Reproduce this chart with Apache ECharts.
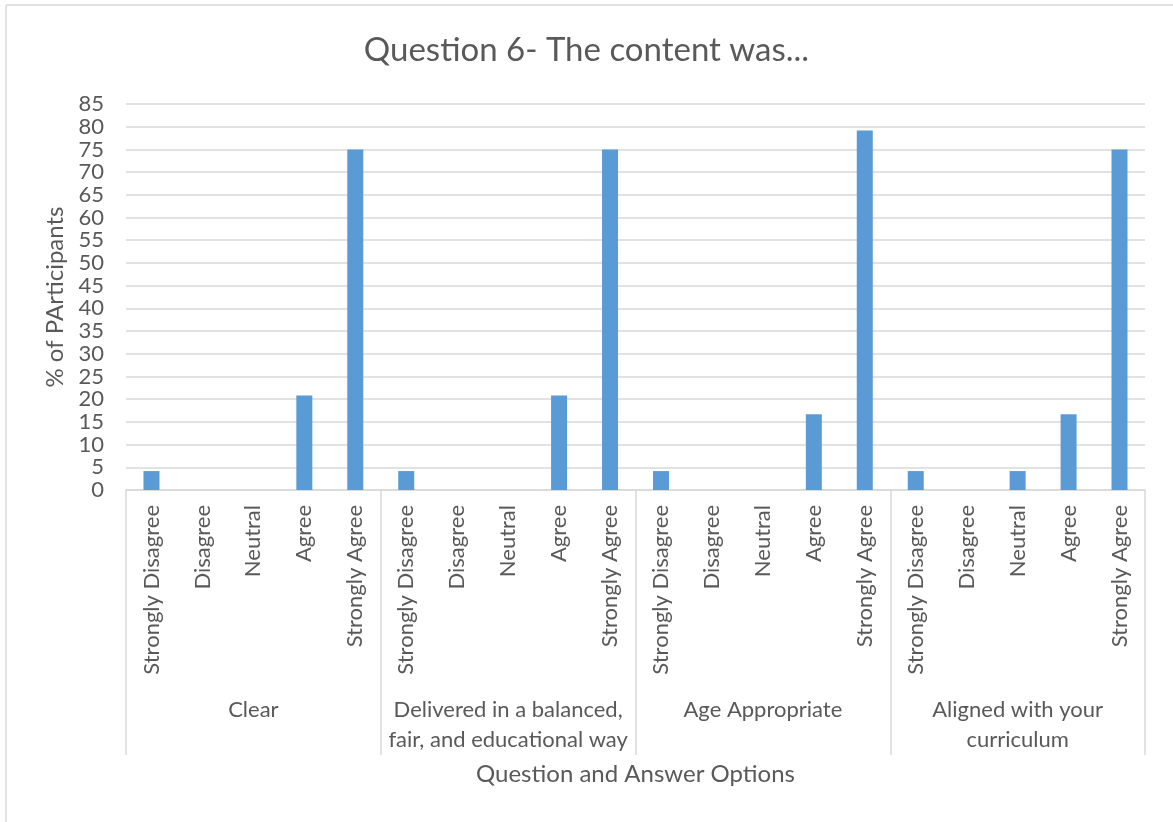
<!DOCTYPE html>
<html>
<head>
<meta charset="utf-8">
<script src="https://cdn.jsdelivr.net/npm/echarts@6/dist/echarts.min.js"></script>
<style>html,body{margin:0;padding:0;background:#fff;}#chart{width:1173px;height:822px;}</style>
</head>
<body>
<div id="chart"></div>
<script>
const answerOptions = ["Strongly Disagree", "Disagree", "Neutral", "Agree", "Strongly Agree"];
const groups = ["Clear", "Delivered in a balanced,\nfair, and educational way", "Age Appropriate", "Aligned with your\ncurriculum"];
const clearValues = [4.17, 0, 0, 20.83, 75];
const deliveredValues = [4.17, 0, 0, 20.83, 75];
const ageValues = [4.17, 0, 0, 16.67, 79.17];
const alignedValues = [4.17, 0, 4.17, 16.67, 75];
const yTicks = { min: 0, max: 85, interval: 5 };

const categories = [];
groups.forEach(() => answerOptions.forEach(a => categories.push(a)));
const values = [].concat(clearValues, deliveredValues, ageValues, alignedValues);

const FONT = 'Lato';
const TXT = '#595959';
const GRID = '#d9d9d9';

const chart = echarts.init(document.getElementById('chart'), null, { renderer: 'canvas' });
chart.setOption({
  backgroundColor: '#ffffff',
  animation: false,
  textStyle: { fontFamily: FONT },
  title: {
    text: 'Question 6- The content was...',
    left: 'center',
    top: 29,
    textStyle: { fontFamily: FONT, fontSize: 33, fontWeight: 'normal', color: TXT }
  },
  graphic: [
    { type: 'line', shape: { x1: 6, y1: 5, x2: 1173, y2: 5 }, style: { stroke: GRID, lineWidth: 1.5 } },
    { type: 'line', shape: { x1: 6, y1: 5, x2: 6, y2: 822 }, style: { stroke: GRID, lineWidth: 1.5 } }
  ],
  grid: { left: 126, right: 28, top: 104, bottom: 332, containLabel: false },
  xAxis: [
    {
      type: 'category',
      data: categories,
      position: 'bottom',
      axisLine: { show: true, lineStyle: { color: GRID, width: 1.5 } },
      axisTick: { show: false },
      axisLabel: {
        interval: 0, rotate: 90, margin: 15,
        fontFamily: FONT, fontSize: 22, color: TXT
      }
    },
    {
      type: 'category',
      data: groups,
      position: 'bottom',
      offset: 0,
      axisLine: { show: false },
      axisTick: { show: true, length: 265, interval: 0, lineStyle: { color: GRID, width: 1.5 } },
      axisLabel: {
        interval: 0, margin: 205, fontFamily: FONT, fontSize: 22, color: TXT,
        lineHeight: 30, align: 'center', verticalAlign: 'top'
      },
      name: 'Question and Answer Options',
      nameLocation: 'middle',
      nameGap: 272,
      nameTextStyle: { fontFamily: FONT, fontSize: 24, color: TXT, verticalAlign: 'top' }
    }
  ],
  yAxis: {
    type: 'value',
    min: yTicks.min, max: yTicks.max, interval: yTicks.interval,
    axisLine: { show: false },
    axisTick: { show: false },
    axisLabel: { fontFamily: FONT, fontSize: 22, color: TXT, margin: 22 },
    splitLine: { lineStyle: { color: GRID, width: 1.5 } },
    name: '% of PArticipants',
    nameLocation: 'middle',
    nameGap: 54,
    nameTextStyle: { fontFamily: FONT, fontSize: 24, color: TXT }
  },
  series: [{
    type: 'bar',
    xAxisIndex: 0,
    data: values,
    barWidth: 16,
    itemStyle: { color: '#5b9bd5' }
  }]
});
</script>
</body>
</html>
